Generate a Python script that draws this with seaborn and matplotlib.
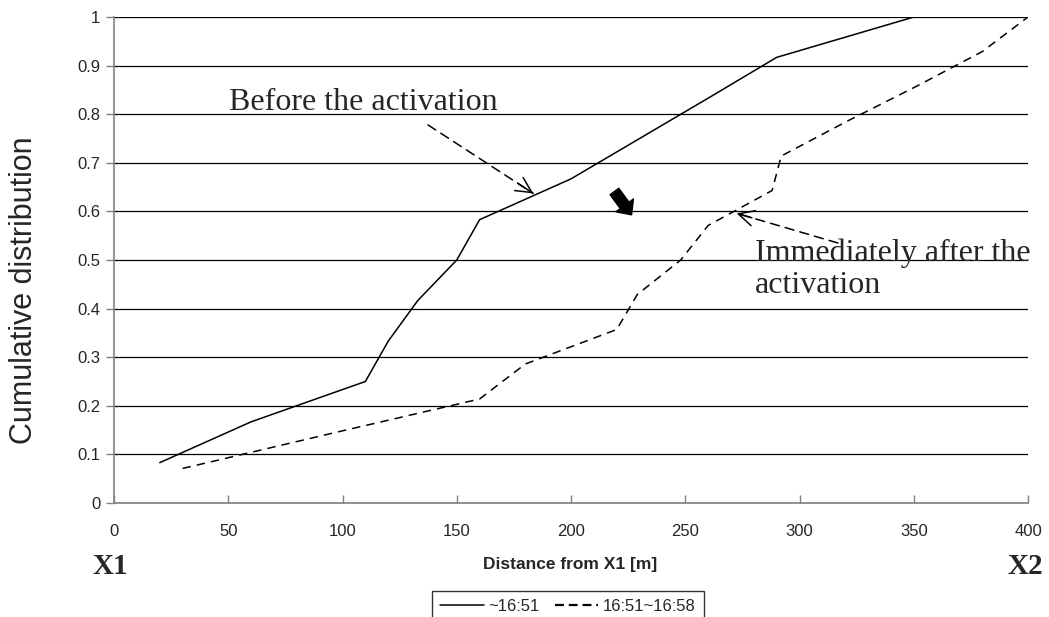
import numpy as np
import pandas as pd
import seaborn as sns
import matplotlib
matplotlib.use("Agg")
import matplotlib.pyplot as plt
from matplotlib.lines import Line2D

# cumulative distribution of vehicle positions
before_x = [20, 60, 110, 120, 133, 150, 160, 200, 230, 260, 290, 350]
before_y = [0.083, 0.167, 0.25, 0.333, 0.417, 0.5, 0.583, 0.667, 0.75, 0.833, 0.917, 1.0]

after_x = [30, 95, 160, 180, 220, 229, 248, 260, 288, 292, 321, 351, 380, 400]
after_y = [0.071, 0.143, 0.214, 0.286, 0.357, 0.429, 0.5, 0.571, 0.643, 0.714, 0.786, 0.857, 0.929, 1.0]

series_names = ["~16:51", "16:51~16:58"]
x_ticks = [0, 50, 100, 150, 200, 250, 300, 350, 400]
y_ticks = [0, 0.1, 0.2, 0.3, 0.4, 0.5, 0.6, 0.7, 0.8, 0.9, 1.0]
y_tick_labels = ["0", "0.1", "0.2", "0.3", "0.4", "0.5", "0.6", "0.7", "0.8", "0.9", "1"]

df = pd.DataFrame({
    "distance": before_x + after_x,
    "cdf": before_y + after_y,
    "period": [series_names[0]] * len(before_x) + [series_names[1]] * len(after_x),
})

sns.set_style("white")
plt.rcParams["font.family"] = ["Liberation Sans", "DejaVu Sans"]

fig = plt.figure(figsize=(10.49, 6.17), dpi=100)
ax = fig.add_axes([0.1087, 0.1848, 0.8713, 0.7876])

sns.lineplot(data=df, x="distance", y="cdf", style="period", color="black",
             dashes={series_names[0]: "", series_names[1]: (5.5, 4)},
             linewidth=1.1, sort=False, legend=False, ax=ax)

ax.set_xlim(0, 400)
ax.set_ylim(0, 1)
ax.set_xticks(x_ticks)
ax.set_yticks(y_ticks)
ax.set_yticklabels(y_tick_labels)
ax.tick_params(axis="y", direction="out", length=6, width=1, color="#808080",
               labelsize=12, pad=4, left=True)
ax.tick_params(axis="x", direction="in", length=6, width=1, color="#808080",
               labelsize=12, pad=15, bottom=True)
ax.yaxis.grid(True, color="black", linewidth=0.9)
ax.xaxis.grid(False)
for side in ["top", "right"]:
    ax.spines[side].set_visible(False)
for side in ["left", "bottom"]:
    ax.spines[side].set_color("#808080")
    ax.spines[side].set_linewidth(1.2)
ax.set_xlabel("")
ax.set_ylabel("")

fig.text(24 / 1049, 1 - 290 / 617, "Cumulative distribution", rotation=90,
         ha="center", va="center", fontsize=22)
fig.text(570 / 1049, 1 - 564 / 617, "Distance from X1 [m]", ha="center", va="center",
         fontsize=12.5, fontweight="bold")
fig.text(110 / 1049, 1 - 566 / 617, "X1", ha="center", va="center",
         fontsize=21, fontweight="bold", family="Liberation Serif")
fig.text(1025 / 1049, 1 - 566 / 617, "X2", ha="center", va="center",
         fontsize=21, fontweight="bold", family="Liberation Serif")

# annotations
ax.text(50.3, 0.809, "Before the activation", family="Liberation Serif",
        fontsize=23, ha="left", va="baseline")
ax.text(280.5, 0.432, "Immediately after the\nactivation", family="Liberation Serif",
        fontsize=23, ha="left", va="baseline", linespacing=1.12)

dash_arrows = [((137.4, 0.778), (183.5, 0.637)), ((316.8, 0.535), (272.5, 0.596))]
for tail, head in dash_arrows:
    ax.annotate("", xy=head, xytext=tail,
                arrowprops=dict(arrowstyle="-", linestyle=(0, (6, 4)), color="black",
                                lw=1.1, shrinkA=0, shrinkB=0))
    v = np.array(head) - np.array(tail)
    pre = np.array(head) - v * 0.15
    ax.annotate("", xy=head, xytext=tuple(pre),
                arrowprops=dict(arrowstyle="->,head_length=0.8,head_width=0.4", color="black",
                                lw=1.1, shrinkA=0, shrinkB=0, mutation_scale=14))

ax.annotate("", xy=(226.5, 0.593), xytext=(219, 0.641),
            arrowprops=dict(arrowstyle="simple,head_length=0.7,head_width=1.3,tail_width=0.65",
                            color="black", shrinkA=0, shrinkB=0, mutation_scale=12))

# legend below the plot, partly cut by the figure edge
handles = [Line2D([], [], color="black", lw=1.1),
           Line2D([], [], color="black", lw=1.6, dashes=(4, 2.2))]
leg = fig.legend(handles, series_names, loc="upper center", ncol=2,
                 bbox_to_anchor=(568 / 1049, 1 - 591 / 617), frameon=True, fancybox=False,
                 edgecolor="black", handlelength=2.6, handletextpad=0.3,
                 columnspacing=0.9, borderpad=0.5, borderaxespad=0,
                 prop={"size": 12})
leg.get_frame().set_linewidth(1)

fig.savefig("out.png", dpi=100)
